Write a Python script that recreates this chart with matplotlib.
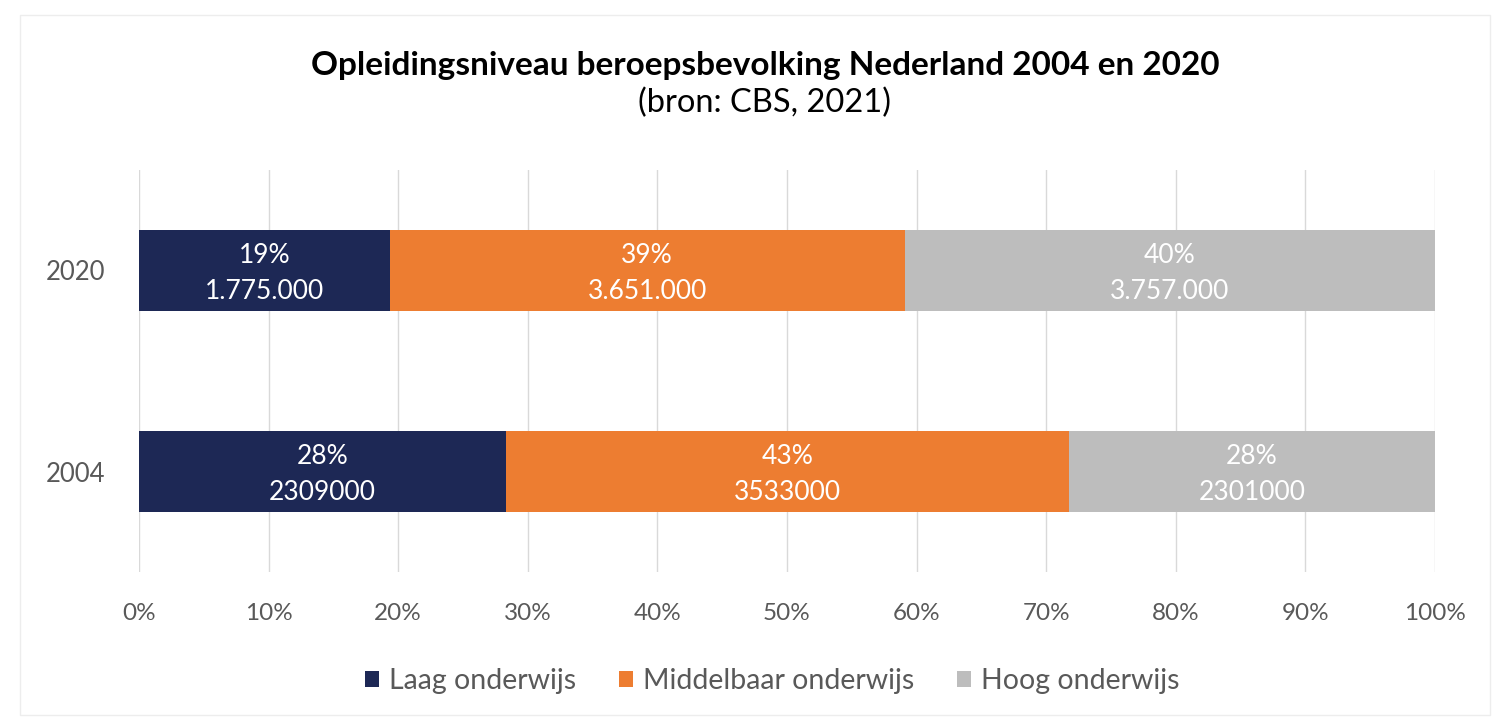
import numpy as np
import matplotlib.pyplot as plt
from matplotlib.patches import Rectangle

plt.rcParams['font.family'] = ['Lato', 'DejaVu Sans']

# data
jaren = ['2004', '2020']
niveaus = ['Laag onderwijs', 'Middelbaar onderwijs', 'Hoog onderwijs']
laag = [2309000, 1775000]
middel = [3533000, 3651000]
hoog = [2301000, 3757000]
# labels zoals in de bron (2020 met punten, 2004 zonder)
pct_labels = [['28%', '43%', '28%'], ['19%', '39%', '40%']]
num_labels = [['2309000', '3533000', '2301000'], ['1.775.000', '3.651.000', '3.757.000']]
xticks = np.arange(0, 101, 10)

kleuren = ['#1D2855', '#ED7D31', '#BDBDBD']

fig = plt.figure(figsize=(14.92, 7.21), dpi=100)
ax = fig.add_axes([139/1492, 1-572/721, (1435-139)/1492, 402/721])

waarden = np.array([laag, middel, hoog], dtype=float)
totaal = waarden.sum(axis=0)
aandeel = waarden / totaal * 100

y = np.arange(len(jaren))
links = np.zeros(len(jaren))
for i, naam in enumerate(niveaus):
    ax.barh(y, aandeel[i], left=links, height=0.4, color=kleuren[i], label=naam, zorder=3)
    for j in range(len(jaren)):
        xm = links[j] + aandeel[i][j] / 2
        ax.text(xm, y[j] + 0.075, pct_labels[j][i], ha='center', va='center',
                color='white', fontsize=19, zorder=4)
        ax.text(xm, y[j] - 0.105, num_labels[j][i], ha='center', va='center',
                color='white', fontsize=19, zorder=4)
    links += aandeel[i]

ax.set_xlim(0, 100)
ax.set_ylim(-0.5, 1.5)
ax.set_xticks(xticks)
ax.set_xticklabels([f'{t}%' for t in xticks])
ax.set_yticks(y)
ax.set_yticklabels(jaren)
ax.tick_params(axis='both', length=0, labelsize=17.5, colors='#595959')
ax.tick_params(axis='x', pad=22)
ax.tick_params(axis='y', labelsize=18.5, pad=24)
ax.grid(axis='x', color='#D9D9D9', linewidth=1, zorder=0)
for s in ax.spines.values():
    s.set_visible(False)

fig.text(765/1492, 1-65/721, 'Opleidingsniveau beroepsbevolking Nederland 2004 en 2020',
         ha='center', va='center', fontsize=24, fontweight='bold', color='black')
fig.text(765/1492, 1-103/721, '(bron: CBS, 2021)', ha='center', va='center',
         fontsize=23.5, color='black')

ax.legend(loc='center', bbox_to_anchor=((772-139)/1296, (572-681)/402), ncol=3, frameon=False,
          fontsize=20.5, labelcolor='#595959', handlelength=0.5, handleheight=0.5,
          handletextpad=0.35, columnspacing=1.5)

# rand om de grafiek
fig.patches.append(Rectangle((20/1492, 1-715/721), 1470/1492, 700/721, transform=fig.transFigure,
                             fill=False, edgecolor='#EDEDED', linewidth=1))

plt.savefig('out.png', dpi=100)
